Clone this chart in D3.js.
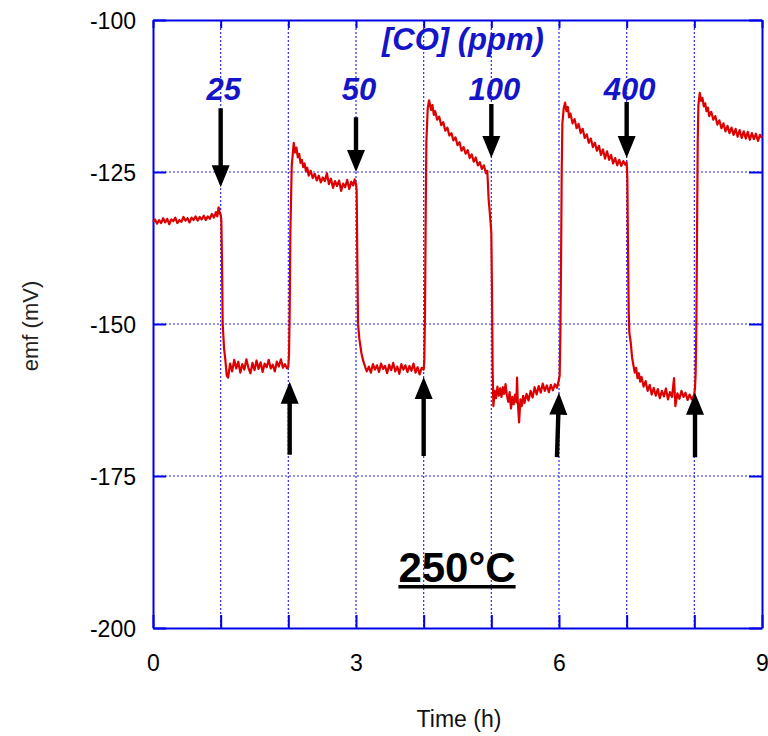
<!DOCTYPE html>
<html>
<head>
<meta charset="utf-8">
<script src="https://cdn.jsdelivr.net/npm/d3@7"></script>
<style>
  html, body { margin: 0; padding: 0; background: #fff; }
  svg { display: block; font-family: "Liberation Sans", Arial, sans-serif; }
</style>
</head>
<body>
<svg id="chart" width="768" height="736"></svg>
<script>
// ---------- data (time in h, emf in mV) ----------
const air0 = [[0.00,-133.2],[0.03,-132.8],[0.06,-133.5],[0.09,-132.9],[0.12,-133.4],[0.15,-132.6],[0.18,-133.3],[0.21,-132.7],[0.24,-133.6],[0.27,-132.8],[0.30,-133.1],[0.33,-132.5],[0.36,-133.4],[0.39,-132.9],[0.42,-133.2],[0.45,-132.4],[0.48,-133.0],[0.51,-132.6],[0.54,-133.3],[0.57,-132.5],[0.60,-132.9],[0.63,-132.3],[0.66,-133.0],[0.69,-132.4],[0.72,-132.8],[0.75,-132.2],[0.78,-132.9],[0.81,-132.3],[0.84,-132.7],[0.87,-131.9],[0.90,-132.5],[0.93,-131.6],[0.95,-132.3],[0.97,-130.8],[0.99,-131.9],[1.00,-132.0]];
const co25 = [[1.01,-133.0],[1.02,-140.0],[1.03,-150.0],[1.05,-154.0],[1.07,-156.0],[1.09,-158.5],[1.11,-158.8],[1.14,-156.5],[1.17,-157.8],[1.20,-155.9],[1.23,-157.3],[1.26,-156.2],[1.29,-158.0],[1.32,-156.6],[1.35,-157.5],[1.38,-155.8],[1.41,-157.2],[1.44,-158.1],[1.47,-156.4],[1.50,-157.6],[1.53,-156.0],[1.56,-157.4],[1.59,-156.3],[1.62,-157.9],[1.65,-156.5],[1.68,-157.1],[1.71,-155.9],[1.74,-157.3],[1.77,-156.7],[1.80,-157.8],[1.83,-156.2],[1.86,-157.0],[1.89,-155.8],[1.92,-157.2],[1.95,-156.6],[1.98,-157.3],[2.00,-157.0]];
const air1 = [[2.01,-155.0],[2.02,-148.0],[2.03,-135.0],[2.05,-124.0],[2.07,-121.5],[2.08,-120.2],[2.10,-121.8],[2.12,-121.0],[2.14,-122.6],[2.16,-122.0],[2.18,-123.5],[2.20,-123.0],[2.22,-124.2],[2.24,-123.6],[2.26,-124.9],[2.28,-124.3],[2.30,-125.6],[2.33,-124.8],[2.36,-126.0],[2.39,-125.3],[2.42,-126.4],[2.45,-125.6],[2.48,-126.7],[2.51,-125.9],[2.54,-126.5],[2.57,-125.2],[2.60,-127.0],[2.63,-126.1],[2.66,-127.6],[2.69,-126.5],[2.72,-127.3],[2.75,-126.4],[2.78,-128.1],[2.81,-126.9],[2.84,-127.5],[2.87,-126.3],[2.90,-127.8],[2.93,-126.6],[2.96,-127.2],[2.98,-126.2],[3.00,-127.0]];
const co50 = [[3.01,-128.0],[3.02,-140.0],[3.03,-150.0],[3.05,-152.5],[3.08,-154.8],[3.11,-156.2],[3.14,-157.2],[3.16,-157.8],[3.19,-157.0],[3.22,-158.0],[3.25,-156.6],[3.28,-157.5],[3.31,-156.8],[3.34,-157.9],[3.37,-156.5],[3.40,-157.4],[3.43,-156.9],[3.46,-158.1],[3.49,-156.7],[3.52,-157.6],[3.55,-156.4],[3.58,-157.8],[3.61,-157.0],[3.64,-158.2],[3.67,-156.6],[3.70,-157.5],[3.73,-156.8],[3.76,-157.9],[3.79,-156.9],[3.82,-157.7],[3.85,-156.5],[3.88,-158.0],[3.91,-157.1],[3.94,-158.3],[3.97,-157.2],[4.00,-157.5]];
const air2 = [[4.01,-156.0],[4.02,-148.0],[4.03,-132.0],[4.04,-120.0],[4.06,-114.5],[4.08,-113.2],[4.11,-114.8],[4.13,-114.0],[4.15,-115.6],[4.17,-115.0],[4.20,-116.4],[4.23,-115.9],[4.26,-117.3],[4.29,-116.8],[4.32,-118.2],[4.35,-117.7],[4.38,-119.0],[4.41,-118.6],[4.44,-119.8],[4.47,-119.3],[4.50,-120.6],[4.53,-120.1],[4.56,-121.5],[4.59,-120.9],[4.62,-122.0],[4.65,-121.4],[4.68,-122.7],[4.71,-122.1],[4.74,-123.3],[4.77,-122.6],[4.80,-123.9],[4.83,-123.4],[4.86,-124.5],[4.89,-123.9],[4.92,-125.2],[4.94,-124.8]];
const co100 = [[4.95,-127.0],[4.96,-129.5],[4.98,-132.0],[5.00,-135.0],[5.01,-145.0],[5.02,-158.0],[5.03,-163.5],[5.05,-161.0],[5.07,-162.2],[5.09,-160.3],[5.11,-161.8],[5.13,-160.6],[5.15,-162.0],[5.17,-160.4],[5.19,-161.5],[5.21,-159.9],[5.23,-161.7],[5.25,-162.8],[5.27,-161.2],[5.29,-163.9],[5.31,-162.0],[5.33,-163.2],[5.35,-161.6],[5.37,-162.9],[5.38,-158.8],[5.39,-162.5],[5.41,-166.2],[5.43,-162.4],[5.45,-163.5],[5.47,-161.8],[5.49,-163.0],[5.52,-161.5],[5.55,-162.6],[5.58,-161.0],[5.61,-162.1],[5.64,-160.4],[5.67,-161.6],[5.70,-160.2],[5.73,-161.3],[5.76,-159.8],[5.79,-161.0],[5.82,-160.1],[5.85,-161.2],[5.88,-160.0],[5.91,-160.9],[5.94,-159.9],[5.97,-160.5],[5.99,-159.6],[6.00,-159.0]];
const air3 = [[6.01,-158.5],[6.02,-152.0],[6.03,-140.0],[6.04,-125.0],[6.05,-117.0],[6.07,-114.5],[6.09,-113.6],[6.11,-115.0],[6.13,-114.3],[6.15,-116.0],[6.17,-115.4],[6.20,-117.0],[6.23,-116.3],[6.26,-117.8],[6.29,-117.1],[6.32,-118.6],[6.35,-117.9],[6.38,-119.4],[6.41,-118.8],[6.44,-120.2],[6.47,-119.5],[6.50,-120.9],[6.53,-120.2],[6.56,-121.5],[6.59,-120.7],[6.62,-122.2],[6.65,-121.3],[6.68,-122.8],[6.71,-121.6],[6.74,-123.0],[6.77,-122.2],[6.80,-123.6],[6.83,-122.7],[6.86,-123.9],[6.89,-123.0],[6.92,-124.0],[6.95,-123.2],[6.98,-123.8],[7.00,-123.4]];
const co400 = [[7.01,-126.0],[7.02,-138.0],[7.03,-148.0],[7.04,-151.5],[7.06,-153.0],[7.08,-155.5],[7.10,-156.8],[7.12,-158.0],[7.14,-157.2],[7.16,-158.9],[7.18,-158.1],[7.20,-159.5],[7.22,-158.7],[7.25,-160.3],[7.28,-159.4],[7.31,-161.0],[7.34,-160.0],[7.37,-161.6],[7.40,-160.5],[7.43,-161.8],[7.46,-160.7],[7.49,-162.2],[7.52,-161.0],[7.55,-161.9],[7.58,-160.6],[7.61,-162.4],[7.64,-161.2],[7.67,-162.0],[7.70,-158.9],[7.72,-163.5],[7.75,-161.4],[7.78,-162.3],[7.81,-161.0],[7.84,-162.0],[7.87,-161.3],[7.90,-162.5],[7.93,-161.6],[7.96,-162.4],[7.99,-161.8],[8.00,-161.5]];
const air4 = [[8.01,-160.5],[8.02,-158.0],[8.03,-150.0],[8.04,-135.0],[8.05,-120.0],[8.06,-114.0],[8.08,-112.0],[8.10,-113.3],[8.12,-112.8],[8.14,-114.2],[8.16,-113.7],[8.18,-115.0],[8.20,-114.4],[8.22,-115.8],[8.25,-115.1],[8.28,-116.4],[8.31,-115.8],[8.34,-117.2],[8.37,-116.5],[8.40,-117.8],[8.43,-117.0],[8.46,-118.3],[8.49,-117.4],[8.52,-118.6],[8.55,-117.7],[8.58,-118.9],[8.61,-117.9],[8.64,-119.2],[8.67,-118.1],[8.70,-119.4],[8.73,-118.3],[8.76,-119.5],[8.79,-118.4],[8.82,-119.7],[8.85,-118.6],[8.88,-119.6],[8.91,-118.7],[8.94,-119.9],[8.97,-118.9],[9.00,-119.4]];

// CO on (down arrows) with concentration labels, CO off (up arrows)
const coLabels = ["25", "50", "100", "400"];
const coOnTimes = [1, 3, 5, 7];
const coOnArrowTop = [-114.5, -116.0, -113.8, -113.5];
const coOnArrowTip = [-127.5, -125.0, -122.7, -122.7];
const coOffTailTimes = [2.02, 4.0, 5.97, 8.01];
const coOffTipTimes = [2.02, 4.0, 6.0, 8.01];
const coOffArrowTail = [-171.5, -171.7, -171.9, -171.9];
const coOffArrowTip = [-159.5, -158.7, -161.3, -161.3];

const xTicks = [0, 1, 2, 3, 4, 5, 6, 7, 8, 9];
const xTickLabels = [0, 3, 6, 9];
const yTicks = [-200, -175, -150, -125, -100];

// ---------- drawing ----------
const svg = d3.select("#chart");
const L = 153, R = 762, T = 20, B = 628;
const x = d3.scaleLinear().domain([0, 9]).range([L, R]);
const y = d3.scaleLinear().domain([-200, -100]).range([B, T]);
const BLUE = "#0000e6";

// grid
const grid = svg.append("g");
grid.selectAll("line.vx").data(xTicks.filter(d => d > 0 && d < 9)).enter().append("line")
  .attr("x1", d => x(d)).attr("x2", d => x(d)).attr("y1", T).attr("y2", B)
  .attr("stroke", "#2a2aff").attr("stroke-width", 1.2).attr("stroke-dasharray", "2,2");
grid.selectAll("line.hy").data(yTicks.filter(d => d > -200 && d < -100)).enter().append("line")
  .attr("y1", d => y(d)).attr("y2", d => y(d)).attr("x1", L).attr("x2", R)
  .attr("stroke", "#2a2aff").attr("stroke-width", 1.2).attr("stroke-dasharray", "2,2");

// axes
const fmtX = d => xTickLabels.includes(d) ? String(d) : "";
const axB = svg.append("g").attr("transform", `translate(0,${B})`)
  .call(d3.axisBottom(x).tickValues(xTicks).tickFormat(fmtX).tickSizeInner(-13).tickSizeOuter(0).tickPadding(27));
const axT = svg.append("g").attr("transform", `translate(0,${T})`)
  .call(d3.axisTop(x).tickValues(xTicks).tickFormat("").tickSizeInner(-8).tickSizeOuter(0));
const axL = svg.append("g").attr("transform", `translate(${L},0)`)
  .call(d3.axisLeft(y).tickValues(yTicks).tickFormat(d => String(d)).tickSizeInner(-13).tickSizeOuter(0).tickPadding(17));
const axR = svg.append("g").attr("transform", `translate(${R},0)`)
  .call(d3.axisRight(y).tickValues(yTicks).tickFormat("").tickSizeInner(-13).tickSizeOuter(0));
[axB, axT, axL, axR].forEach(a => {
  a.select(".domain").attr("stroke", BLUE).attr("stroke-width", 2);
  a.selectAll(".tick line").attr("stroke", BLUE).attr("stroke-width", 2);
  a.selectAll("text").attr("fill", "#000").style("font-size", "23px")
    .style("font-family", "'Liberation Sans', Arial, sans-serif");
});
axL.selectAll("text").attr("dy", "0.38em");

// data line
const allData = [].concat(air0, co25, air1, co50, air2, co100, air3, co400, air4);
svg.append("path").datum(allData)
  .attr("fill", "none").attr("stroke", "#dd0000").attr("stroke-width", 2.2)
  .attr("stroke-linejoin", "round")
  .attr("d", d3.line().x(d => x(d[0])).y(d => y(d[1])));

// arrows
function arrow(x0, y0, x1, y1) {
  const dx = x1 - x0, dy = y1 - y0, len = Math.hypot(dx, dy);
  const ux = dx / len, uy = dy / len, px = -uy, py = ux;
  const hl = 22, hw = 9, sw = 2.2;
  const bx = x1 - ux * hl, by = y1 - uy * hl;
  const pts = [
    [x0 + px * sw, y0 + py * sw], [bx + px * sw, by + py * sw], [bx + px * hw, by + py * hw],
    [x1, y1], [bx - px * hw, by - py * hw], [bx - px * sw, by - py * sw], [x0 - px * sw, y0 - py * sw]
  ];
  svg.append("path").attr("d", "M" + pts.map(p => p.join(",")).join("L") + "Z").attr("fill", "#000");
}
coOnTimes.forEach((t, i) => arrow(x(t), y(coOnArrowTop[i]), x(t), y(coOnArrowTip[i])));
coOffTipTimes.forEach((t, i) => arrow(x(coOffTailTimes[i]), y(coOffArrowTail[i]), x(t), y(coOffArrowTip[i])));

// concentration labels
svg.selectAll("text.conc").data(coLabels).enter().append("text")
  .attr("x", (d, i) => x(coOnTimes[i]) + 3).attr("y", y(-113.2))
  .attr("text-anchor", "middle").attr("fill", "#1414c8")
  .style("font-size", "31px").style("font-weight", "bold").style("font-style", "italic")
  .text(d => d);
svg.append("text").attr("x", x(4.58)).attr("y", y(-104.9))
  .attr("text-anchor", "middle").attr("fill", "#1414c8")
  .style("font-size", "31px").style("font-weight", "bold").style("font-style", "italic")
  .text("[CO] (ppm)");

// temperature label
const tl = svg.append("text").attr("x", 457).attr("y", 582).attr("text-anchor", "middle")
  .attr("fill", "#000").style("font-size", "42px").style("font-weight", "bold").text("250°C");
const bb = tl.node().getBBox();
svg.append("rect").attr("x", bb.x).attr("y", 585).attr("width", bb.width).attr("height", 3.5).attr("fill", "#000");

// axis titles
svg.append("text").attr("x", 459).attr("y", 727).attr("text-anchor", "middle")
  .attr("fill", "#111").style("font-size", "23px").text("Time (h)");
svg.append("text").attr("transform", `translate(38,${(T + B) / 2 + 2}) rotate(-90)`)
  .attr("text-anchor", "middle").attr("fill", "#222").style("font-size", "22px").text("emf (mV)");
</script>
</body>
</html>
